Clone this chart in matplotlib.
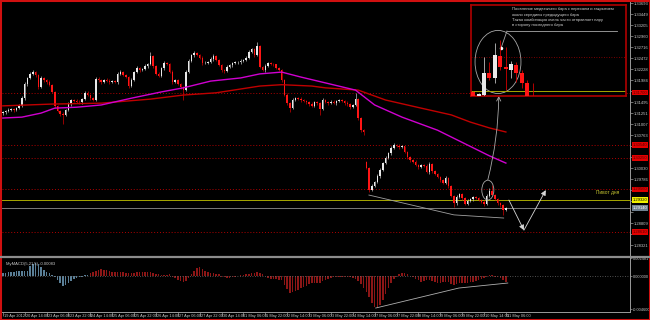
import numpy as np
import matplotlib.pyplot as plt
import matplotlib.transforms as mtransforms
from matplotlib.patches import Ellipse, Rectangle
from matplotlib.lines import Line2D

plt.rcParams['font.family'] = ['Liberation Sans Narrow', 'Liberation Sans', 'DejaVu Sans']

# EURUSD, one candle per 2 hours, 19 Apr 22:00 .. 11 May 08:00
first_open = 1.3125
closes = [
    1.3127, 1.3130, 1.3132, 1.3134, 1.3132, 1.3136, 1.3141, 1.3158, 1.3189, 1.3203,
    1.3212, 1.3216, 1.3209, 1.3183, 1.3203, 1.3198, 1.3194, 1.3187, 1.3172, 1.3141,
    1.3130, 1.3123, 1.3121, 1.3132, 1.3145, 1.3154, 1.3152, 1.3150, 1.3149, 1.3156,
    1.3170, 1.3165, 1.3158, 1.3154, 1.3201, 1.3198, 1.3194, 1.3198, 1.3197, 1.3194,
    1.3196, 1.3193, 1.3212, 1.3216, 1.3209, 1.3205, 1.3185, 1.3198, 1.3216, 1.3225,
    1.3221, 1.3223, 1.3229, 1.3234, 1.3252, 1.3229, 1.3212, 1.3207, 1.3225, 1.3236,
    1.3234, 1.3216, 1.3194, 1.3198, 1.3189, 1.3183, 1.3176, 1.3216, 1.3241, 1.3254,
    1.3258, 1.3254, 1.3247, 1.3236, 1.3237, 1.3238, 1.3245, 1.3252, 1.3243, 1.3232,
    1.3221, 1.3218, 1.3227, 1.3232, 1.3236, 1.3238, 1.3239, 1.3241, 1.3243, 1.3247,
    1.3261, 1.3267, 1.3254, 1.3274, 1.3227, 1.3221, 1.3229, 1.3236, 1.3234, 1.3233,
    1.3225, 1.3221, 1.3198, 1.3165, 1.3147, 1.3136, 1.3154, 1.3158, 1.3156, 1.3154,
    1.3152, 1.3149, 1.3145, 1.3141, 1.3149, 1.3147, 1.3134, 1.3154, 1.3149, 1.3147,
    1.3150, 1.3148, 1.3152, 1.3154, 1.3151, 1.3147, 1.3145, 1.3138, 1.3144, 1.3156,
    1.3114, 1.3087, 1.3083, 1.3003, 1.2954, 1.2963, 1.2972, 1.2985, 1.2999, 1.3014,
    1.3025, 1.3036, 1.3047, 1.3054, 1.3052, 1.3050, 1.3051, 1.3038, 1.3027, 1.3021,
    1.3016, 1.3010, 1.3005, 1.3009, 1.3007, 1.2994, 1.3012, 1.2996, 1.2990, 1.2983,
    1.2976, 1.2970, 1.2981, 1.2963, 1.2941, 1.2925, 1.2939, 1.2945, 1.2936, 1.2923,
    1.2930, 1.2934, 1.2939, 1.2937, 1.2932, 1.2928, 1.2923, 1.2941, 1.2952, 1.2943,
    1.2934, 1.2925, 1.2921, 1.2910, 1.2914,
]
gap_opens = {133: 1.3016}   # monday open after the weekend gap
# wick lengths in pips above / below the body
wick_up = [
    3, 2, 4, 2, 3, 3, 5, 4, 6, 3, 4, 5, 3, 2, 4, 3, 2, 4, 3, 2,
    3, 2, 4, 3, 5, 3, 2, 4, 3, 2, 4, 3, 2, 3, 5, 4, 3, 2, 4, 3,
    2, 3, 4, 5, 3, 2, 3, 4, 3, 4, 2, 3, 4, 3, 8, 3, 2, 4, 3, 5,
    3, 2, 4, 3, 2, 3, 2, 5, 4, 3, 5, 3, 2, 4, 3, 2, 4, 5, 3, 2,
    3, 2, 4, 3, 2, 3, 2, 4, 3, 5, 4, 3, 2, 9, 3, 2, 4, 3, 2, 3,
    2, 3, 2, 3, 4, 3, 5, 3, 2, 4, 3, 2, 3, 4, 3, 2, 3, 5, 3, 2,
    3, 4, 2, 3, 2, 3, 4, 3, 2, 13, 3, 2, 3, 3, 2, 4, 3, 5, 4, 3,
    4, 3, 5, 4, 3, 4, 3, 2, 3, 2, 3, 4, 3, 2, 3, 4, 5, 3, 2, 3,
    2, 3, 4, 3, 2, 3, 4, 3, 2, 3, 4, 3, 2, 3, 2, 3, 4, 5, 6, 13,
    3, 2, 3, 2, 3,
]
wick_dn = [
    4, 3, 2, 3, 4, 2, 3, 2, 3, 4, 2, 3, 3, 4, 2, 3, 4, 2, 3, 5,
    3, 4, 20, 3, 2, 4, 3, 2, 3, 4, 2, 3, 4, 3, 2, 3, 4, 2, 3, 4,
    3, 2, 4, 3, 2, 3, 5, 3, 2, 3, 4, 2, 3, 4, 3, 4, 3, 2, 3, 4,
    2, 3, 4, 3, 2, 4, 22, 3, 2, 3, 4, 2, 3, 4, 2, 3, 2, 4, 3, 2,
    4, 3, 2, 3, 4, 2, 3, 4, 2, 3, 2, 3, 4, 3, 2, 3, 4, 2, 3, 4,
    3, 2, 4, 3, 5, 9, 3, 2, 3, 4, 2, 3, 4, 3, 2, 3, 13, 3, 2, 4,
    2, 3, 4, 3, 2, 3, 4, 3, 2, 3, 4, 3, 7, 3, 4, 3, 2, 3, 4, 3,
    2, 3, 4, 2, 3, 4, 3, 2, 3, 4, 2, 3, 4, 3, 2, 3, 4, 3, 2, 3,
    4, 3, 2, 5, 3, 9, 3, 2, 4, 3, 2, 3, 4, 3, 2, 3, 4, 3, 2, 3,
    2, 3, 4, 11, 3,
]

macd = [
    0.00041, 0.00041, 0.00055, 0.00055, 0.00055, 0.00069, 0.00069, 0.00069, 0.00069, 0.00069,
    0.00138, 0.00166, 0.00179, 0.00166, 0.00124, 0.00083, 0.00055, 0.00041, 0.00014, -0.00014,
    -0.00055, -0.00097, -0.00138, -0.00124, -0.00097, -0.00069, -0.00041, -0.00028, -0.00014, -0.00014,
    0.00014, 0.00014, 0.00041, 0.00055, 0.00069, 0.00083, 0.00097, 0.00083, 0.00083, 0.00069,
    0.00055, 0.00055, 0.00055, 0.00055, 0.00055, 0.00041, 0.00041, 0.00041, 0.00041, 0.00055,
    0.00055, 0.00055, 0.00055, 0.00055, 0.00055, 0.00041, 0.00028, 0.00028, 0.00014, 0.00014,
    0.00014, 0.00028, -0.00014, -0.00028, -0.00055, -0.00069, -0.00083, -0.00069, -0.00028, 0.00028,
    0.00069, 0.00110, 0.00124, 0.00097, 0.00069, 0.00055, 0.00041, 0.00041, 0.00028, 0.00028,
    -0.00014, -0.00014, -0.00028, -0.00028, -0.00014, -0.00014, 0.00004, 0.00014, 0.00014, 0.00028,
    0.00028, 0.00041, 0.00041, 0.00055, 0.00041, 0.00028, -0.00004, -0.00028, -0.00041, -0.00041,
    -0.00041, -0.00055, -0.00055, -0.00124, -0.00179, -0.00235, -0.00221, -0.00207, -0.00193, -0.00166,
    -0.00152, -0.00138, -0.00110, -0.00097, -0.00097, -0.00097, -0.00097, -0.00069, -0.00055, -0.00041,
    -0.00028, -0.00014, -0.00014, -0.00014, -0.00014, -0.00014, -0.00014, -0.00014, -0.00028, -0.00041,
    -0.00069, -0.00110, -0.00166, -0.00221, -0.00290, -0.00373, -0.00428, -0.00442, -0.00400, -0.00331,
    -0.00248, -0.00166, -0.00097, -0.00041, -0.00014, 0.00028, 0.00041, 0.00041, 0.00028, -0.00004,
    -0.00014, -0.00041, -0.00055, -0.00083, -0.00069, -0.00055, -0.00055, -0.00069, -0.00083, -0.00097,
    -0.00097, -0.00083, -0.00083, -0.00083, -0.00110, -0.00124, -0.00110, -0.00097, -0.00097, -0.00097,
    -0.00097, -0.00083, -0.00083, -0.00069, -0.00055, -0.00041, -0.00028, -0.00014, 0.00014, 0.00014,
    -0.00014, -0.00014, -0.00028, -0.00055, -0.00083,
]
macd_blue_until = 32
macd_ticks = [-0.0046, 0.0, 0.002481]

# moving averages, read at some candles
ma_fast_k = [0, 7, 14, 19, 27, 36, 47, 58, 66, 76, 87, 94, 102, 109, 118, 129, 136, 146, 159, 170, 178, 184]
ma_fast = [1.3114, 1.3116, 1.3125, 1.3136, 1.3138, 1.3143, 1.3158, 1.3172, 1.3181, 1.3196, 1.3203,
           1.3212, 1.3216, 1.3205, 1.3192, 1.3176, 1.3143, 1.3116, 1.3087, 1.3054, 1.3030, 1.3014]
ma_slow_k = [0, 18, 36, 54, 66, 78, 94, 102, 113, 118, 130, 140, 153, 164, 171, 178, 184]
ma_slow = [1.3141, 1.3145, 1.3147, 1.3156, 1.3165, 1.3170, 1.3185, 1.3188, 1.3185, 1.3181, 1.3176,
           1.3154, 1.3136, 1.3121, 1.3105, 1.3092, 1.3083]

levels = [1.3170, 1.3054, 1.3025, 1.2956, 1.2861]
pivot = 1.2932

time_labels = ['19 Apr 2012', '20 Apr 14:00', '23 Apr 06:00', '23 Apr 22:00', '24 Apr 14:00',
               '25 Apr 06:00', '25 Apr 22:00', '26 Apr 14:00', '27 Apr 06:00', '27 Apr 22:00',
               '30 Apr 14:00', '1 May 06:00', '1 May 22:00', '2 May 14:00', '3 May 06:00',
               '3 May 22:00', '4 May 14:00', '7 May 06:00', '7 May 22:00', '8 May 14:00',
               '9 May 06:00', '9 May 22:00', '10 May 14:00', '11 May 06:00']
label_step = 8

# drawn objects
trend_k = [133.9, 165.0, 183.2]
trend_p = [1.2943, 1.2899, 1.2892]
zigzag_k = [185.1, 190.6, 198.6]
zigzag_p = [1.2932, 1.2865, 1.2954]
macd_line_k = [136.4, 166.8, 184.7]
macd_line_v = [-0.00442, -0.00166, -0.00097]

# zoomed-in candles shown in the box
inset_j = [-2, -1, 0, 1, 2, 3, 4, 5, 6, 7, 8, 9]
inset_o = [1.29172, 1.29140, 1.29155, 1.29276, 1.29249, 1.29370, 1.29309, 1.29293, 1.29320, 1.29276, 1.29221, 1.29140]
inset_c = [1.29140, 1.29161, 1.29276, 1.29249, 1.29375, 1.29309, 1.29298, 1.29326, 1.29276, 1.29221, 1.29128, 1.29100]
inset_h = [1.29180, 1.29165, 1.29364, 1.29337, 1.29441, 1.29458, 1.29419, 1.29342, 1.29337, 1.29293, 1.29238, 1.29221]
inset_l = [1.29130, 1.29130, 1.29150, 1.29238, 1.29221, 1.29293, 1.29183, 1.29249, 1.29227, 1.29194, 1.29120, 1.29090]
inset_text = ("Появление медвежьего бара с перехаем и закрытием\n"
              "около середины предыдущего бара\n"
              "Такая комбинация очень часто отправляет пару\n"
              "в сторону последнего бара")

BULL = '#e8e8e8'
BEAR = '#ff1515'
GRID_TXT = '#c8c8c8'
AXIS = '#9a9a9a'
FS = 3.0


def candles(ax, x, o, h, l, c, width, lw):
    o, h, l, c = map(np.asarray, (o, h, l, c))
    up = c >= o
    ax.vlines(x, l, h, colors=np.where(up, '#bdbdbd', '#d40000'), lw=lw, zorder=3)
    ax.bar(x, np.maximum(np.abs(c - o), 0.00006), bottom=np.minimum(o, c), width=width,
           color=np.where(up, BULL, BEAR), lw=0, zorder=4)


fig = plt.figure(figsize=(6.5, 3.2), dpi=100, facecolor='black')
ax = fig.add_axes([2 / 650, 64 / 320, 628 / 650, 254 / 320], facecolor='black')
ax2 = fig.add_axes([2 / 650, 8 / 320, 628 / 650, 54 / 320], facecolor='black')

n = len(closes)
k = np.arange(n)
c = np.array(closes)
o = np.r_[first_open, c[:-1]]
for i, v in gap_opens.items():
    o[i] = v
hi = np.maximum(o, c) + np.array(wick_up) * 1e-4
lo = np.minimum(o, c) - np.array(wick_dn) * 1e-4

# ---- price window
for lv in levels:
    ax.axhline(lv, color='#b00000', ls=(0, (1, 2)), lw=0.7, zorder=1)
ax.axhline(pivot, color='#a8a800', lw=0.7, zorder=1)
ax.axhline(c[-1], color='#7a7a7a', lw=0.7, zorder=1)

candles(ax, k, o, hi, lo, c, 0.55, 0.5)
ax.plot(ma_slow_k, ma_slow, color='#c00000', lw=1.0, zorder=5)
ax.plot(ma_fast_k, ma_fast, color='#d000d0', lw=1.0, zorder=5)

ax.plot(trend_k, trend_p, color='#a0a0a0', lw=0.6, zorder=6)
for a in range(len(zigzag_k) - 1):
    ax.annotate('', xy=(zigzag_k[a + 1], zigzag_p[a + 1]), xytext=(zigzag_k[a], zigzag_p[a]),
                arrowprops=dict(arrowstyle='-|>,head_length=0.5,head_width=0.25', color='#d8d8d8',
                                lw=0.6, mutation_scale=6, shrinkA=0, shrinkB=0), zorder=6)
ax.add_patch(Ellipse((177.4, 1.2954), 4.4, 0.0044, fill=False, ec='#a8a8a8', lw=0.6, zorder=6))
ax.annotate('', xy=(181.4, 1.3163), xytext=(177.4, 1.2977),
            arrowprops=dict(arrowstyle='->,head_length=0.5,head_width=0.25', color='#a8a8a8', lw=0.6,
                            mutation_scale=6, shrinkA=0, shrinkB=0, connectionstyle='arc3,rad=0.06'),
            zorder=6)
ax.text(216.9, 1.2948, 'Пивот дня', fontsize=3.4, color='#c8c832', va='center', ha='left')

ax.set_xlim(-0.3, 229.4)
ax.set_ylim(1.28077, 1.33716)
ax.set_xticks([])
ax.yaxis.tick_right()
tags = levels + [pivot, c[-1]]
yt = 1.33693 - 0.002442 * np.arange(23)
ax.set_yticks(yt)
ax.set_yticklabels(['' if min(abs(v - t) for t in tags) < 0.0012 else f'{v:.5f}' for v in yt])
ax.tick_params(axis='y', labelsize=FS, colors=AXIS, labelcolor=GRID_TXT, length=2, width=0.5, pad=1)
for s in ['top', 'left', 'bottom']:
    ax.spines[s].set_visible(False)
ax.spines['right'].set_color(AXIS)
ax.spines['right'].set_linewidth(0.7)


def price_tag(a, y, fc, tc):
    a.text(1.004, y, f'{y:.5f}', transform=a.get_yaxis_transform(), fontsize=FS, color=tc,
           va='center', ha='left', zorder=10, clip_on=False,
           bbox=dict(boxstyle='square,pad=0.15', fc=fc, ec='none'))


for lv in levels:
    price_tag(ax, lv, '#e00000', '#5a0000')
price_tag(ax, pivot, '#f0f000', '#000000')
price_tag(ax, c[-1], '#708090', '#ffffff')

# ---- MACD window
bar_cols = ['#5a7f97' if i < macd_blue_until else '#8c1616' for i in range(n)]
ax2.bar(k, macd, width=0.55, color=bar_cols, lw=0)
ax2.axhline(0, color='#6a6a6a', ls=(0, (1, 2)), lw=0.6)
ax2.plot(macd_line_k, macd_line_v, color='#b0b0b0', lw=0.6)
ax2.text(0.006, 0.93, f'MyMACD(5,21,5) {macd[-1]:.5f}', transform=ax2.transAxes, fontsize=FS,
         color=GRID_TXT, va='top', ha='left')
ax2.set_xlim(-0.3, 229.4)
ax2.set_ylim(-0.004968, 0.002484)
ax2.yaxis.tick_right()
ax2.set_yticks(macd_ticks)
ax2.set_yticklabels([f'{v:.6f}' for v in macd_ticks])
ax2.tick_params(axis='y', labelsize=2.8, colors=AXIS, labelcolor=GRID_TXT, length=1.5, width=0.5, pad=0.8)
tk = np.arange(len(time_labels)) * label_step
ax2.set_xticks(tk)
ax2.tick_params(axis='x', direction='out', length=3, width=0.5, colors=AXIS, labelbottom=False)
trans = mtransforms.blended_transform_factory(ax2.transData, ax2.transAxes)
for x, t in zip(tk, time_labels):
    ax2.text(x + 0.4, -0.03, t, transform=trans, fontsize=2.8, color=GRID_TXT, va='top', ha='left',
             clip_on=False)
for s in ['top', 'left']:
    ax2.spines[s].set_visible(False)
for s in ['right', 'bottom']:
    ax2.spines[s].set_color(AXIS)
    ax2.spines[s].set_linewidth(0.7)

# window separator and frame
fig.add_artist(Line2D([0, 1], [63 / 320, 63 / 320], color='#8c8c8c', lw=1.6))
fig.add_artist(Rectangle((0, 0), 1, 1, transform=fig.transFigure, fill=False, ec='#d01010', lw=2.2))

# ---- zoom box with the pattern
axi = fig.add_axes([471 / 650, 224 / 320, 155 / 650, 91 / 320], facecolor='black')
axi.axhline(1.29364, color='#a00000', ls=(0, (1, 2)), lw=0.6)
axi.axhline(1.29177, color='#a8a800', lw=0.7)
candles(axi, inset_j, inset_o, inset_h, inset_l, inset_c, 0.75, 0.6)
axi.add_patch(Ellipse((2.6, 1.29337), 8.5, 0.00347, fill=False, ec='#a8a8a8', lw=0.6))
axi.text(0.265, 0.975, inset_text, transform=axi.transAxes, fontsize=3.0, color='#d0d0d0',
         va='top', ha='left', linespacing=1.45)
axi.plot([0.232, 0.94], [0.714, 0.714], transform=axi.transAxes, color='#a8a8a8', lw=0.6)
axi.plot([0.232, 0.194], [0.714, 0.527], transform=axi.transAxes, color='#a8a8a8', lw=0.6)
axi.plot([0.194], [0.527], 'o', transform=axi.transAxes, color='white', ms=1.5)
axi.set_xlim(-2.4, 26.3)
axi.set_ylim(1.2915, 1.2965)
axi.set_xticks([])
axi.set_yticks([])
for s in axi.spines.values():
    s.set_color('#b00000')
    s.set_linewidth(1.2)

fig.savefig('out.png', dpi=100, facecolor='black')
